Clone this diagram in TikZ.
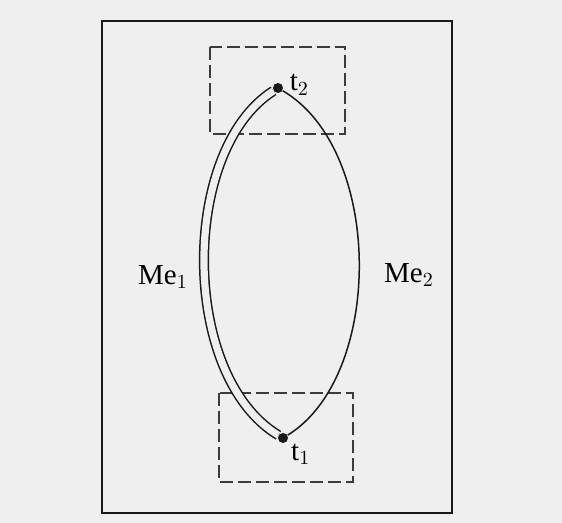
\documentclass[tikz,border=0pt]{standalone}
\usepackage{fontspec}
\setmainfont{Liberation Serif}
\usepackage{tikz}
\usetikzlibrary{positioning}
\definecolor{paper}{RGB}{239,239,239}
\definecolor{ink}{RGB}{25,25,25}
\tikzset{
  frame/.style={draw=ink, line width=1.1pt},
  zone/.style={draw=ink!85, line width=1pt, dash pattern=on 6.5pt off 2.5pt},
  vertex/.style={circle, fill=ink, inner sep=0pt, minimum size=5pt},
  arcline/.style={draw=ink, line width=0.75pt},
  twinline/.style={arcline, double=paper, double distance=3.6pt},
  lbl/.style={font=\fontsize{14.5}{16}\selectfont, inner sep=1pt},
}

\begin{document}
\begin{tikzpicture}[x=0.5pt, y=-0.5pt]
  \fill[paper] (0,0) rectangle (562,523);
  \useasboundingbox (0,0) rectangle (562,523);
  % outer frame
  \draw[frame] (102,21) rectangle (452,513);
  % dashed zones round the end points
  \draw[zone] (210,47) rectangle (345,134);
  \draw[zone] (219,393) rectangle (353,482);
  % end points
  \node[vertex] (t2) at (278,88) {};
  \node[vertex] (t1) at (283,438) {};
  \node[lbl, right=2pt of t2, yshift=1.5pt] (t2l) {t$_2$};
  \node[lbl, below right=0pt and 1pt of t1] (t1l) {t$_1$};
  % the two paths: Me1 doubled on the left, Me2 on the right
  \draw[twinline] (t2) .. controls (180,150) and (180,376) .. (t1);
  \draw[arcline] (t2) .. controls (384,150) and (384,376) .. (t1);
  \node[lbl] (me1) at (163,277) {Me$_1$};
  \node[lbl] (me2) at (409,275) {Me$_2$};
\end{tikzpicture}
\end{document}
